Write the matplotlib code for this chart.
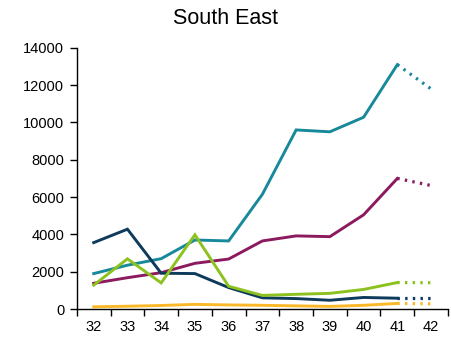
import numpy as np
import matplotlib
matplotlib.use("Agg")
import matplotlib.pyplot as plt

plt.rcParams["font.family"] = ["Liberation Sans", "DejaVu Sans"]

# ===============================
# DATA
# ===============================

weeks = [32, 33, 34, 35, 36, 37, 38, 39, 40, 41, 42]

teal = [1900, 2350, 2700, 3700, 3650, 6150, 9600, 9500, 10280, 13100, 11800]
magenta = [1380, 1680, 1950, 2450, 2680, 3650, 3920, 3880, 5050, 7000, 6620]
navy = [3560, 4280, 1920, 1900, 1150, 600, 560, 470, 620, 580, 580]
green = [1280, 2690, 1400, 3980, 1220, 730, 790, 840, 1050, 1420, 1410]
yellow = [120, 150, 190, 250, 220, 200, 170, 140, 200, 300, 280]

series = [
    (yellow, "#fbb829"),
    (magenta, "#8b1a5f"),
    (teal, "#18899a"),
    (navy, "#0e3a5b"),
    (green, "#8cc21f"),
]

# ===============================
# PLOT
# ===============================

fig = plt.figure(figsize=(4.52, 3.37), dpi=100)
ax = fig.add_axes([0.170, 0.083, 0.821, 0.775])

for vals, col in series:
    ax.plot(weeks[:10], vals[:10], color=col, linewidth=2.1,
            solid_joinstyle="miter")
    ax.plot(weeks[9:], vals[9:], color=col, linewidth=2.3,
            linestyle=(-2.4, (0.75, 1.65)))

ax.set_xlim(31.5, 42.5)
ax.set_ylim(0, 14000)
ax.set_yticks(np.arange(0, 14001, 2000))

ax.set_xticks(np.arange(31.5, 42.6, 1))
ax.set_xticklabels([])
ax.set_xticks(weeks, minor=True)
ax.set_xticklabels([str(w) for w in weeks], minor=True)
ax.tick_params(axis="x", which="minor", length=0, pad=8, labelsize=10.5)
ax.tick_params(axis="x", which="major", length=5, width=1, direction="out")
ax.tick_params(axis="y", length=5, width=1, labelsize=10.5, pad=4)

for s in ["top", "right"]:
    ax.spines[s].set_visible(False)
ax.spines["left"].set_linewidth(1)
ax.spines["bottom"].set_linewidth(1)

fig.text(0.5, 0.945, "South East", ha="center", va="center", fontsize=15.5)

fig.savefig("out.png", dpi=100)
